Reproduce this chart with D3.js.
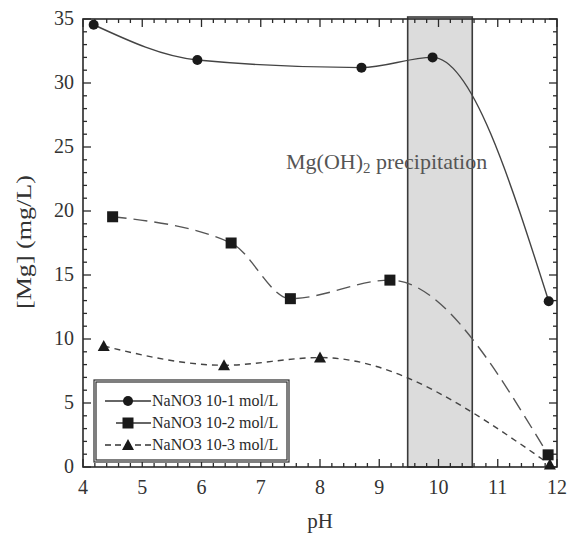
<!DOCTYPE html>
<html><head><meta charset="utf-8">
<script src="https://cdn.jsdelivr.net/npm/d3@7"></script>
<style>body{margin:0;background:#fff}svg{display:block}</style>
</head><body>
<svg id="c" width="568" height="536"></svg>
<script>
const s1pH = [4.18, 5.93, 8.7, 9.9, 11.86];
const s1Mg = [34.55, 31.8, 31.2, 32.0, 12.95];
const s2pH = [4.5, 6.5, 7.5, 9.18, 11.85];
const s2Mg = [19.55, 17.5, 13.15, 14.6, 0.95];
const s3pH = [4.35, 6.38, 8.0, 11.88];
const s3Mg = [9.45, 7.95, 8.55, 0.2];
const seriesNames = ["NaNO3 10-1 mol/L", "NaNO3 10-2 mol/L", "NaNO3 10-3 mol/L"];
const xTicks = [4,5,6,7,8,9,10,11,12];
const yTicks = [0,5,10,15,20,25,30,35];
const band = [9.48, 10.57];

const svg = d3.select("#c");
const L = 83, R = 557, T = 19, B = 467;
const x = d3.scaleLinear().domain([4,12]).range([L,R]);
const y = d3.scaleLinear().domain([0,35]).range([B,T]);
const font = "'Liberation Serif','Times New Roman',serif";
const ink = "#2a2a2a";

// band
svg.append("rect").attr("x", x(band[0])).attr("y", T-2).attr("width", x(band[1])-x(band[0])).attr("height", B-T+2)
  .attr("fill", "#dcdcdc").attr("stroke", "#3a3a3a").attr("stroke-width", 1.6);

// frame
svg.append("rect").attr("x", L).attr("y", T).attr("width", R-L).attr("height", B-T)
  .attr("fill", "none").attr("stroke", ink).attr("stroke-width", 1.6);

// ticks
const g = svg.append("g").attr("stroke", ink).attr("stroke-width", 1.3);
d3.range(4, 12.001, 0.2).forEach(v => {
  const major = Math.abs(v - Math.round(v)) < 1e-6;
  const len = major ? 8 : 4;
  g.append("line").attr("x1", x(v)).attr("x2", x(v)).attr("y1", B).attr("y2", B-len);
  g.append("line").attr("x1", x(v)).attr("x2", x(v)).attr("y1", T).attr("y2", T+len);
});
d3.range(0, 35.001, 1).forEach(v => {
  const major = v % 5 === 0;
  const len = major ? 8 : 4;
  g.append("line").attr("y1", y(v)).attr("y2", y(v)).attr("x1", L).attr("x2", L+len);
  g.append("line").attr("y1", y(v)).attr("y2", y(v)).attr("x1", R).attr("x2", R-len);
});

// tick labels
svg.append("g").selectAll("text").data(xTicks).join("text")
  .attr("x", d => x(d)).attr("y", 494).attr("text-anchor", "middle")
  .attr("font-family", font).attr("font-size", 20).attr("fill", "#333").text(d => d);
svg.append("g").selectAll("text").data(yTicks).join("text")
  .attr("x", 74).attr("y", d => y(d) + 6).attr("text-anchor", "end")
  .attr("font-family", font).attr("font-size", 20).attr("fill", "#333").text(d => d);

// axis titles
svg.append("text").attr("x", 320).attr("y", 528).attr("text-anchor", "middle")
  .attr("font-family", font).attr("font-size", 21).attr("fill", "#333").text("pH");
svg.append("text").attr("transform", "translate(31,242) rotate(-90)").attr("text-anchor", "middle")
  .attr("font-family", font).attr("font-size", 21).attr("fill", "#333")
  .attr("textLength", 134).attr("lengthAdjust", "spacingAndGlyphs").text("[Mg] (mg/L)");

// annotation
const ann = svg.append("text").attr("x", 286).attr("y", 169)
  .attr("font-family", font).attr("font-size", 22).attr("fill", "#555");
ann.append("tspan").text("Mg(OH)");
ann.append("tspan").attr("font-size", 15).attr("dy", 4).text("2");
ann.append("tspan").attr("dy", -4).text(" precipitation");

// lines
const line = d3.line().x(d => x(d[0])).y(d => y(d[1])).curve(d3.curveMonotoneX);
const zip = (a, b) => a.map((v, i) => [v, b[i]]);
const data = [zip(s1pH, s1Mg), zip(s2pH, s2Mg), zip(s3pH, s3Mg)];
const dashes = [null, "14,7", "6,5"];
const colors = ["#444", "#555", "#444"];
data.forEach((d, i) => {
  svg.append("path").attr("d", line(d)).attr("fill", "none").attr("stroke", colors[i])
    .attr("stroke-width", 1.4).attr("stroke-dasharray", dashes[i]);
});

function marker(sel, type, cx, cy) {
  if (type === 0) sel.append("circle").attr("cx", cx).attr("cy", cy).attr("r", 5).attr("fill", "#1a1a1a");
  else if (type === 1) sel.append("rect").attr("x", cx-5.5).attr("y", cy-5.5).attr("width", 11).attr("height", 11).attr("fill", "#1a1a1a");
  else sel.append("path").attr("d", `M${cx},${cy-6}L${cx+6},${cy+5}L${cx-6},${cy+5}Z`).attr("fill", "#1a1a1a");
}
const mg = svg.append("g");
data.forEach((d, i) => d.forEach(p => marker(mg, i, x(p[0]), y(p[1]))));

// legend
const lg = svg.append("g");
lg.append("rect").attr("x", 94).attr("y", 380).attr("width", 195).attr("height", 82)
  .attr("fill", "#fff").attr("stroke", ink).attr("stroke-width", 1.2);
lg.append("rect").attr("x", 96).attr("y", 382).attr("width", 191).attr("height", 78)
  .attr("fill", "none").attr("stroke", ink).attr("stroke-width", 1.2);
const ly = [401, 423, 445];
seriesNames.forEach((n, i) => {
  lg.append("line").attr("x1", i === 1 ? 116 : 105).attr("x2", 151).attr("y1", ly[i]).attr("y2", ly[i])
    .attr("stroke", "#333").attr("stroke-width", 1.4).attr("stroke-dasharray", i === 2 ? "6,4" : null);
  marker(lg, i, 128, ly[i]);
  lg.append("text").attr("x", 152).attr("y", ly[i] + 5).attr("font-family", font).attr("font-size", 16)
    .attr("fill", "#2a2a2a").text(n);
});
</script>
</body></html>
